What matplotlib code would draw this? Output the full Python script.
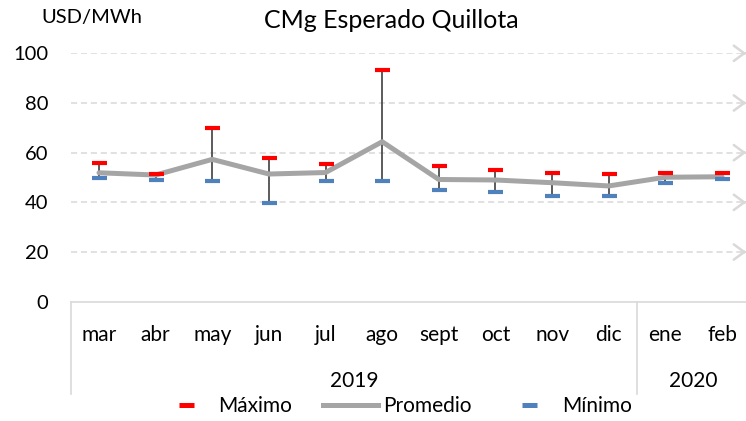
import numpy as np
import matplotlib
matplotlib.use("Agg")
import matplotlib.pyplot as plt
import matplotlib.transforms as mtransforms
from matplotlib.lines import Line2D

# data (USD/MWh)
months = ["mar", "abr", "may", "jun", "jul", "ago", "sept", "oct", "nov", "dic", "ene", "feb"]
years = ["2019", "2020"]
year_spans = [(0, 9), (10, 11)]
maximo = [55.7, 51.5, 69.8, 58.0, 55.5, 93.4, 54.5, 53.1, 51.7, 51.5, 51.8, 51.8]
promedio = [51.9, 51.0, 57.3, 51.4, 52.0, 64.4, 49.2, 49.0, 47.9, 46.6, 50.1, 50.3]
minimo = [49.6, 48.9, 48.6, 39.7, 48.6, 48.7, 44.8, 44.1, 42.7, 42.4, 47.6, 49.5]
yticks = [0, 20, 40, 60, 80, 100]

plt.rcParams["font.family"] = ["Lato", "DejaVu Sans"]

W, H = 746, 421
fig = plt.figure(figsize=(W / 100, H / 100), dpi=100)
# plot area in pixels: x 70.7..750.3, y 53.3..301.7 (from top)
ax = fig.add_axes([70.7 / W, 1 - 301.7 / H, (750.3 - 70.7) / W, (301.7 - 53.3) / H])

x = np.arange(len(months))
grid_c = "#d9d9d9"

# dashed gridlines with arrow heads on the right
x_end = 11.35
ax.hlines(yticks[1:], -0.5, x_end, colors=grid_c, linewidth=1.1,
          linestyles=(0, (4, 2.5)), zorder=1)
for v in yticks[1:]:
    ax.annotate("", xy=(11.43, v), xytext=(11.39, v),
                arrowprops=dict(arrowstyle="->,head_length=0.75,head_width=0.55",
                                color=grid_c, lw=1.8, shrinkA=0, shrinkB=0))

ax.vlines(x, minimo, maximo, colors="#404040", linewidth=1.2, zorder=2)
ax.plot(x, promedio, color="#a5a5a5", linewidth=3.6, zorder=3, solid_capstyle="round")
ax.plot(x, maximo, linestyle="none", marker="_", markersize=10.8,
        markeredgewidth=3.0, color="#ff0000", zorder=4)
ax.plot(x, minimo, linestyle="none", marker="_", markersize=10.8,
        markeredgewidth=3.0, color="#4f81bd", zorder=4)

ax.set_xlim(-0.5, 11.5)
ax.set_ylim(0, 100)
for s in ax.spines.values():
    s.set_visible(False)

ax.set_yticks(yticks)
ax.set_yticklabels([str(t) for t in yticks], fontsize=14.5)
ax.tick_params(axis="y", length=0, pad=16)
for lab in ax.get_yticklabels():
    lab.set_va("center_baseline")

ax.set_xticks(x)
ax.set_xticklabels(months, fontsize=15)
ax.tick_params(axis="x", length=0, pad=28)
for lab in ax.get_xticklabels():
    lab.set_va("baseline")

# category axis box (two levels)
tr = mtransforms.blended_transform_factory(ax.transData, ax.transAxes)
box_bottom = (301.7 - 394) / (301.7 - 53.3)
ax.plot([-0.5, 11.6], [0, 0], transform=tr, color=grid_c, lw=1.2, clip_on=False)
for xs in [-0.5, 9.5]:
    ax.plot([xs, xs], [0, box_bottom], transform=tr, color=grid_c, lw=1.2, clip_on=False)
year_base = (301.7 - 387) / (301.7 - 53.3)
for yr, (a, b) in zip(years, year_spans):
    ax.text((a + b) / 2, year_base, yr, transform=tr, ha="center", va="baseline", fontsize=15)

fig.text(391 / W, 1 - 21 / H, "CMg Esperado Quillota", ha="center", va="center", fontsize=18)
fig.text(92 / W, 1 - 17 / H, "USD/MWh", ha="center", va="center", fontsize=14.5)

handles = [
    Line2D([], [], linestyle="none", marker="_", markersize=10.8, markeredgewidth=3.6, color="#ff0000"),
    Line2D([], [], color="#a5a5a5", linewidth=3.6),
    Line2D([], [], linestyle="none", marker="_", markersize=10.8, markeredgewidth=3.6, color="#4f81bd"),
]
fig.legend(handles, ["Máximo", "Promedio", "Mínimo"], loc="center",
           bbox_to_anchor=(395 / W, 1 - 406 / H), ncol=3, frameon=False,
           fontsize=15, handlelength=2.64, handletextpad=0.26, columnspacing=1.45,
           borderpad=0, borderaxespad=0)

fig.savefig("out.png", dpi=100)
